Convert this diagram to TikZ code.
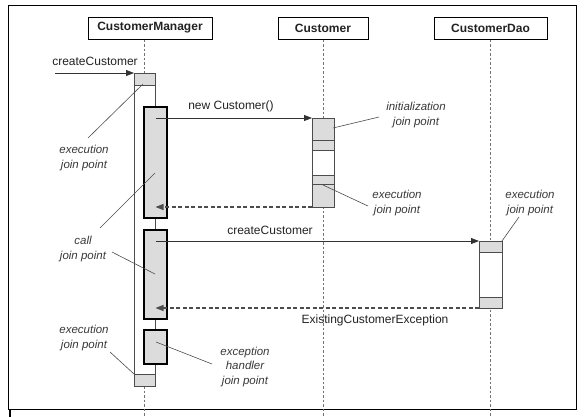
\documentclass[tikz,border=0pt]{standalone}
\usepackage{fontspec}
\setmainfont{Liberation Sans}
\usetikzlibrary{arrows.meta}
\definecolor{shade}{HTML}{DCDCDC}
\definecolor{ink}{HTML}{222222}
\begin{document}
\begin{tikzpicture}[x=1pt,y=-1pt,
  hdr/.style={draw=black, line width=1pt, minimum height=22pt, inner sep=0pt,
    font=\fontsize{12}{14}\selectfont\bfseries, text=ink},
  life/.style={draw=black!55, line width=0.9pt, dash pattern=on 2.5pt off 2pt},
  outerbar/.style={draw=black!70, line width=0.7pt, fill=white},
  seg/.style={draw=black!70, line width=0.7pt, fill=shade},
  innerbar/.style={draw=black, line width=1.3pt, fill=shade},
  msg/.style={draw=black!80, line width=0.8pt, -{Triangle[length=8pt,width=6pt]}},
  ret/.style={draw=black!70, line width=1.1pt, dash pattern=on 4pt off 2.5pt, -{Triangle[length=8pt,width=6pt]}},
  mlabel/.style={font=\fontsize{12}{14}\selectfont, text=ink, inner sep=0pt},
  note/.style={font=\fontsize{11.5}{14.5}\selectfont\itshape, text=ink!90, align=center, inner sep=0pt},
  lead/.style={draw=black!70, line width=0.6pt},
]
\useasboundingbox (0,0) rectangle (586,416);
% frames
\draw[black, line width=1pt] (8,5) rectangle (576,409);
\draw[black, line width=1.6pt] (576,409.5) -- (10,409.5) -- (10,420);

% headers
\node[hdr, minimum width=124pt] (cm) at (150,28) {CustomerManager};
\node[hdr, minimum width=90pt] (cu) at (323,28) {Customer};
\node[hdr, minimum width=113pt] (dao) at (490.5,28) {CustomerDao};

% lifelines
\coordinate (cmend) at (144,416);
\coordinate (cuend) at (323,416);
\coordinate (daoend) at (490,416);
\draw[life] (cm.south -| cmend) -- (cmend);
\draw[life] (cu.south) -- (cuend);
\draw[life] (dao.south -| daoend) -- (daoend);

% CustomerManager outer activation
\draw[outerbar] (134,73) rectangle (155,386);
\draw[seg] (134,73) rectangle (155,85);
\draw[seg] (134,374) rectangle (155,386);
% inner bars
\draw[innerbar] (144,107) rectangle (167,218);
\draw[innerbar] (144,230) rectangle (167,319);
\draw[innerbar] (144,330) rectangle (167,364);

% Customer activation
\draw[outerbar] (312,118) rectangle (334,207);
\draw[seg] (312,118) rectangle (334,140);
\draw[seg] (312,140) rectangle (334,150);
\draw[seg] (312,175) rectangle (334,184);
\draw[seg] (312,184) rectangle (334,207);

% CustomerDao activation
\draw[outerbar] (479,241) rectangle (502,308);
\draw[seg] (479,241) rectangle (502,252);
\draw[seg] (479,297) rectangle (502,308);

% message points
\coordinate (start) at (55,73);
\coordinate (cmtop) at (134,73);
\coordinate (m1s) at (155.5,118);
\coordinate (m1e) at (312,118);
\coordinate (r1s) at (312,207);
\coordinate (r1e) at (155.5,207);
\coordinate (m2s) at (155.5,241);
\coordinate (m2e) at (479,241);
\coordinate (r2s) at (479,308);
\coordinate (r2e) at (155.5,308);

\draw[msg] (start) -- (cmtop);
\draw[msg] (m1s) -- (m1e);
\draw[ret] (r1s) -- (r1e);
\draw[msg] (m2s) -- (m2e);
\draw[ret] (r2s) -- (r2e);

\node[mlabel] (l1) at (95,61) {createCustomer};
\node[mlabel] (l2) at (231,106) {new Customer()};
\node[mlabel] (l3) at (270,230) {createCustomer};
\node[mlabel] (l4) at (375,320) {ExistingCustomerException};

% notes
\node[note] (n1) at (84,158) {execution\\join point};
\node[note] (n2) at (83,249) {call\\join point};
\node[note] (n3) at (84,338) {execution\\join point};
\node[note] (n4) at (245,367) {exception\\handler\\join point};
\node[note] (n5) at (416,115) {initialization\\join point};
\node[note] (n6) at (397,203) {execution\\join point};
\node[note] (n7) at (530,203) {execution\\join point};

% leader lines
\coordinate (a1) at (88,138);   \coordinate (b1) at (143,84);
\coordinate (a2) at (100,228);  \coordinate (b2) at (155,173);
\coordinate (a3) at (112,252);  \coordinate (b3) at (155,274);
\coordinate (a4) at (110,352);  \coordinate (b4) at (134,374);
\coordinate (a5) at (212,364);  \coordinate (b5) at (156,342);
\coordinate (a6) at (379,117);  \coordinate (b6) at (333,128);
\coordinate (a7) at (368,206);  \coordinate (b7) at (323,185);
\coordinate (a8) at (519,217);  \coordinate (b8) at (502,241);
\foreach \i in {1,...,8} \draw[lead] (a\i) -- (b\i);
\end{tikzpicture}
\end{document}
